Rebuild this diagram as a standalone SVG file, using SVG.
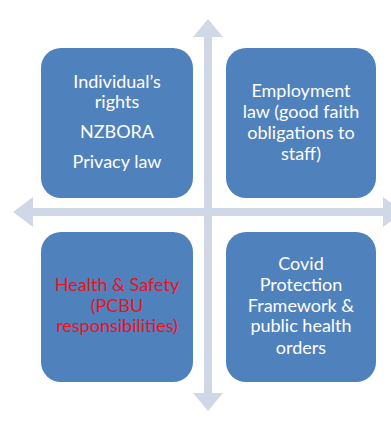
<svg xmlns="http://www.w3.org/2000/svg" width="391" height="421" viewBox="0 0 391 421">
  <style>
    .axis { fill: #D0D8E8; }
    .box { fill: #4F81BD; }
    .label { font-family: Lato, "Open Sans", "Liberation Sans", sans-serif; font-size: 18px; text-anchor: middle; fill: #FFFFFF; }
    .label.alert { fill: #E8131B; }
  </style>
  <rect width="391" height="421" fill="#FFFFFF"/>

  <!-- Cross of double-headed axes -->
  <g id="connectors">
    <polygon class="axis" points="208,19 223,37 212,37 212,393 223,393 208,411 193,393 204,393 204,37 193,37"/>
    <polygon class="axis" points="13,212 33,197 33,208 383,208 383,197 403,212 383,227 383,216 33,216 33,227"/>
  </g>

  <g id="node-rights">
    <rect class="box" x="41" y="48" width="152" height="150" rx="20"/>
    <text class="label" x="117" y="88">Individual’s</text>
    <text class="label" x="117" y="108">rights</text>
    <text class="label" x="117" y="138">NZBORA</text>
    <text class="label" x="117" y="168">Privacy law</text>
  </g>

  <g id="node-employment">
    <rect class="box" x="226" y="48" width="150" height="150" rx="20"/>
    <text class="label" x="301" y="97">Employment</text>
    <text class="label" x="301" y="118">law (good faith</text>
    <text class="label" x="301" y="139">obligations to</text>
    <text class="label" x="301" y="160">staff)</text>
  </g>

  <g id="node-health-safety">
    <rect class="box" x="41" y="232" width="152" height="150" rx="20"/>
    <text class="label alert" x="117" y="291">Health &amp; Safety</text>
    <text class="label alert" x="117" y="312">(PCBU</text>
    <text class="label alert" x="117" y="332">responsibilities)</text>
  </g>

  <g id="node-covid">
    <rect class="box" x="226" y="232" width="150" height="150" rx="20"/>
    <text class="label" x="301" y="270">Covid</text>
    <text class="label" x="301" y="291">Protection</text>
    <text class="label" x="301" y="312">Framework &amp;</text>
    <text class="label" x="301" y="332">public health</text>
    <text class="label" x="301" y="354">orders</text>
  </g>
</svg>
